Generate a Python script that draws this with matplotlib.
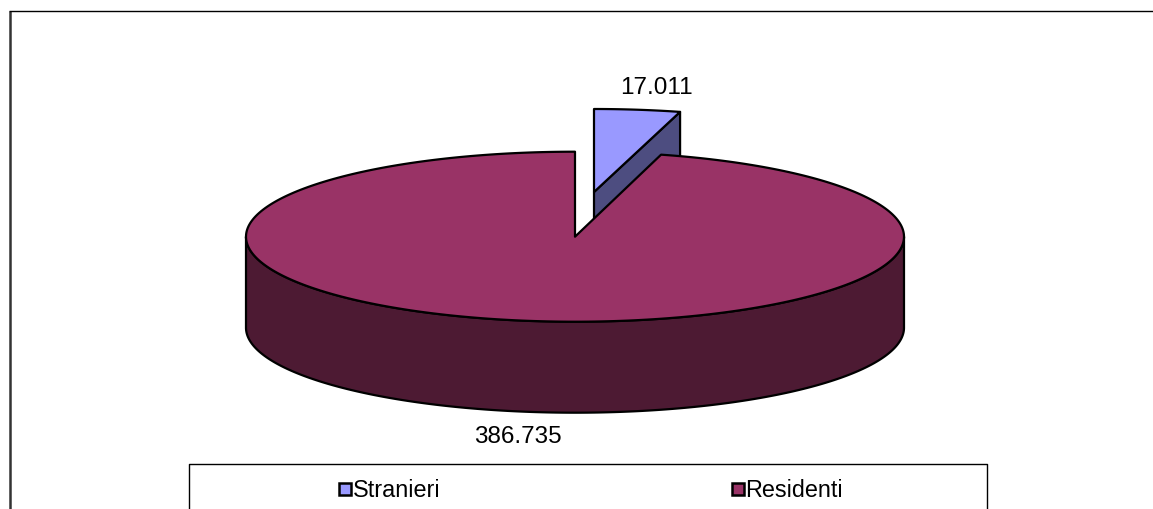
import numpy as np
import matplotlib
matplotlib.use("Agg")
from matplotlib import pyplot as plt
from matplotlib.patches import Polygon, Rectangle

categories = ["Stranieri", "Residenti"]
values = [17011, 386735]
value_labels = ["17.011", "386.735"]

top_colors = ["#9999FF", "#993366"]
side_colors = ["#4D4D80", "#4D1A33"]

plt.rcParams["font.family"] = ["Liberation Sans", "DejaVu Sans"]

# pie geometry in pixels
cx, cy = 575, 237.7
rx, ry = 329, 85
depth = 91
offset = (19, -44.7)  # how far the small slice is pulled out
lw = 1.6

# angles from 12 o'clock, going clockwise
angle = 360 * values[0] / sum(values)


def rim(a, b, x0, y0, yr=ry):
    t = np.radians(np.linspace(a, b, 300))
    return np.column_stack([x0 + rx * np.sin(t), y0 - yr * np.cos(t)])


fig = plt.figure(figsize=(11.53, 5.10), dpi=100)
ax = fig.add_axes([0, 0, 1, 1])
ax.set_xlim(0, 1153)
ax.set_ylim(510, 0)
ax.axis("off")

# outer frame
ax.plot([9.5, 9.5], [510, 11.5], color="#333333", lw=1.8, solid_capstyle="butt")
ax.plot([9, 1153], [11.5, 11.5], color="black", lw=1, solid_capstyle="butt")

# small slice, side first and then top
sx, sy = cx + offset[0], cy + offset[1]
arc = rim(0, angle, sx, sy, 83)
apex = np.array([sx, sy])
cut = np.array([apex, arc[-1], arc[-1] + [0, depth], apex + [0, depth]])
ax.add_patch(Polygon(cut, fc=side_colors[0], ec="black", lw=lw, joinstyle="round", zorder=2))
ax.add_patch(Polygon(np.vstack([apex, arc]), fc=top_colors[0], ec="black", lw=lw, joinstyle="round", zorder=3))

# big slice side
front = rim(90, 270, cx, cy)
side = np.vstack([front, front[::-1] + [0, depth]])
ax.add_patch(Polygon(side, fc=side_colors[1], ec="black", lw=lw, joinstyle="round", zorder=4))

# big slice top
big = np.vstack([[cx, cy], rim(angle, 360, cx, cy)])
ax.add_patch(Polygon(big, fc=top_colors[1], ec="black", lw=lw, joinstyle="round", zorder=5))

# value labels
ax.text(656, 88, value_labels[0], fontsize=17.5, ha="center", va="center", zorder=6)
ax.text(518, 437, value_labels[1], fontsize=17.5, ha="center", va="center", zorder=6)

# legend box runs off the bottom of the picture
ax.plot([189, 189, 987, 987], [510, 465, 465, 510], color="black", lw=1, zorder=6)
for name, color, box_x in zip(categories, top_colors, [339, 732]):
    ax.add_patch(Rectangle((box_x, 484), 12, 12, fc=color, ec="black", lw=1.8, zorder=7))
    ax.text(box_x + 13.5, 490.5, name, fontsize=16.8, ha="left", va="center", zorder=7)

fig.savefig("out.png", dpi=100)
